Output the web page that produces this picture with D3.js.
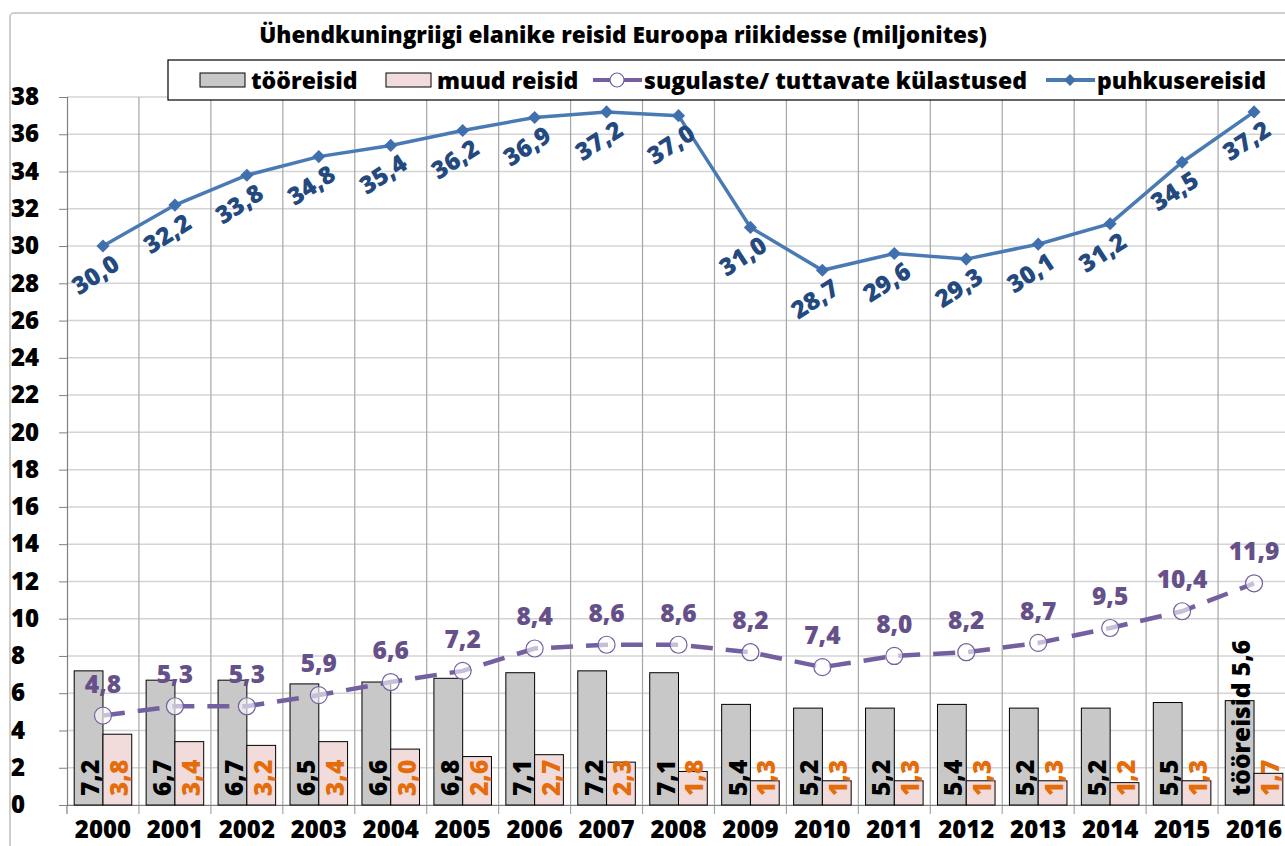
<!DOCTYPE html>
<html>
<head>
<meta charset="utf-8">
<script src="https://cdn.jsdelivr.net/npm/d3@7"></script>
<style>
  body { margin: 0; background: #fff; }
  svg text { font-family: "Open Sans", Lato, sans-serif; font-weight: 800; }
</style>
</head>
<body>
<svg id="chart" width="1285" height="846"></svg>
<script>
var years = ["2000","2001","2002","2003","2004","2005","2006","2007","2008","2009","2010","2011","2012","2013","2014","2015","2016"];
var tooreisid = [7.2, 6.7, 6.7, 6.5, 6.6, 6.8, 7.1, 7.2, 7.1, 5.4, 5.2, 5.2, 5.4, 5.2, 5.2, 5.5, 5.6];
var muudReisid = [3.8, 3.4, 3.2, 3.4, 3.0, 2.6, 2.7, 2.3, 1.8, 1.3, 1.3, 1.3, 1.3, 1.3, 1.2, 1.3, 1.7];
var sugulaste = [4.8, 5.3, 5.3, 5.9, 6.6, 7.2, 8.4, 8.6, 8.6, 8.2, 7.4, 8.0, 8.2, 8.7, 9.5, 10.4, 11.9];
var puhkus = [30.0, 32.2, 33.8, 34.8, 35.4, 36.2, 36.9, 37.2, 37.0, 31.0, 28.7, 29.6, 29.3, 30.1, 31.2, 34.5, 37.2];
var yTicks = d3.range(0, 39, 2);
var title = "Ühendkuningriigi elanike reisid Euroopa riikidesse (miljonites)";

var svg = d3.select("svg#chart"),
    margin = {top: 97, left: 67},
    width = 1223,
    height = 708;

var fmt = function(v) { return v.toFixed(1).replace(".", ","); };

// chart frame
svg.append("rect")
    .attr("x", 10).attr("y", 13)
    .attr("width", 1300).attr("height", 860)
    .attr("rx", 4)
    .attr("fill", "#fff")
    .attr("stroke", "#bfbfbf")
    .attr("stroke-width", 1.5);

svg.append("text")
    .attr("x", 623).attr("y", 43)
    .attr("text-anchor", "middle")
    .style("font-size", "22.6px")
    .text(title);

var g = svg.append("g").attr("transform", "translate(" + margin.left + "," + margin.top + ")");

var x = d3.scaleBand().domain(years).range([0, width]);
var y = d3.scaleLinear().domain([0, 38]).range([height, 0]);

// horizontal grid
g.selectAll(".hgrid")
  .data(yTicks)
  .enter().append("line")
    .attr("x1", 0).attr("x2", width)
    .attr("y1", function(d) { return y(d); })
    .attr("y2", function(d) { return y(d); })
    .attr("stroke", "#d4d4d4").attr("stroke-width", 1.5);

// vertical grid
g.selectAll(".vgrid")
  .data(years.slice(1).concat(["end"]))
  .enter().append("line")
    .attr("x1", function(d, i) { return x.step() * (i + 1); })
    .attr("x2", function(d, i) { return x.step() * (i + 1); })
    .attr("y1", 0).attr("y2", height + 9)
    .attr("stroke", "#a6a6a6").attr("stroke-width", 1.2);

// y axis
var yAxis = g.append("g")
    .call(d3.axisLeft(y).tickValues(yTicks).tickSize(8).tickPadding(8));
yAxis.select(".domain").attr("stroke", "#808080").attr("stroke-width", 1.2);
yAxis.selectAll(".tick line").attr("stroke", "#808080");
yAxis.selectAll("text").style("font-size", "24px").attr("fill", "#000")
    .attr("font-family", "Open Sans").attr("font-weight", "800");
yAxis.selectAll("text").attr("text-anchor", "start").attr("x", -56);

// x axis
var xAxis = g.append("g")
    .attr("transform", "translate(0," + height + ")")
    .call(d3.axisBottom(x).tickSize(0).tickPadding(16));
xAxis.select(".domain").attr("stroke", "#808080").attr("stroke-width", 1.2);
xAxis.selectAll("text").style("font-size", "24px").attr("fill", "#000")
    .attr("font-family", "Open Sans").attr("font-weight", "800");
g.append("line").attr("x1", 0).attr("x2", 0).attr("y1", height).attr("y2", height + 9)
    .attr("stroke", "#808080").attr("stroke-width", 1.2);

var bw = x.step() * 0.4;
var cx = function(i) { return x(years[i]) + x.bandwidth() / 2; };

// bars
g.selectAll(".bar-too")
  .data(tooreisid)
  .enter().append("rect")
    .attr("x", function(d, i) { return cx(i) - bw; })
    .attr("y", function(d) { return y(d); })
    .attr("width", bw)
    .attr("height", function(d) { return height - y(d); })
    .attr("fill", "#c8c8c8").attr("stroke", "#000").attr("stroke-width", 1);

g.selectAll(".bar-muud")
  .data(muudReisid)
  .enter().append("rect")
    .attr("x", function(d, i) { return cx(i); })
    .attr("y", function(d) { return y(d); })
    .attr("width", bw)
    .attr("height", function(d) { return height - y(d); })
    .attr("fill", "#f2dcdb").attr("stroke", "#000").attr("stroke-width", 1);

// bar labels (rotated)
g.selectAll(".lbl-too")
  .data(tooreisid)
  .enter().append("text")
    .attr("transform", function(d, i) { return "translate(" + (cx(i) - bw / 2 + 1) + "," + (height - 9) + ") rotate(-90)"; })
    .attr("dominant-baseline", "central")
    .style("font-size", "24.5px")
    .attr("fill", "#000")
    .text(function(d, i) { return (i === years.length - 1 ? "tööreisid " : "") + fmt(d); });

g.selectAll(".lbl-muud")
  .data(muudReisid)
  .enter().append("text")
    .attr("transform", function(d, i) { return "translate(" + (cx(i) + bw / 2 + 1) + "," + (height - 9) + ") rotate(-90)"; })
    .attr("dominant-baseline", "central")
    .style("font-size", "24.5px")
    .attr("fill", "#e46c0a")
    .text(function(d) { return fmt(d); });

// sugulaste line
var line = d3.line()
    .x(function(d, i) { return cx(i); })
    .y(function(d) { return y(d); });

g.append("path")
    .datum(sugulaste)
    .attr("d", line)
    .attr("fill", "none")
    .attr("stroke", "#7460a0")
    .attr("stroke-width", 4.5)
    .attr("stroke-dasharray", "22,13");

g.selectAll(".pt-sug")
  .data(sugulaste)
  .enter().append("circle")
    .attr("cx", function(d, i) { return cx(i); })
    .attr("cy", function(d) { return y(d); })
    .attr("r", 8.5)
    .attr("fill", "#fff").attr("fill-opacity", 0.6)
    .attr("stroke", "#7460a0").attr("stroke-width", 1.2);

g.selectAll(".lbl-sug")
  .data(sugulaste)
  .enter().append("text")
    .attr("x", function(d, i) { return cx(i); })
    .attr("y", function(d) { return y(d) - 23; })
    .attr("text-anchor", "middle")
    .style("font-size", "24.5px")
    .attr("fill", "#66508a")
    .text(function(d) { return fmt(d); });

// puhkusereisid line
g.append("path")
    .datum(puhkus)
    .attr("d", line)
    .attr("fill", "none")
    .attr("stroke", "#4a7ab4")
    .attr("stroke-width", 3.5);

g.selectAll(".pt-puh")
  .data(puhkus)
  .enter().append("path")
    .attr("transform", function(d, i) { return "translate(" + cx(i) + "," + y(d) + ")"; })
    .attr("d", d3.symbol().type(d3.symbolDiamond2).size(110))
    .attr("fill", "#3f6fad");

g.selectAll(".lbl-puh")
  .data(puhkus)
  .enter().append("text")
    .attr("transform", function(d, i) { return "translate(" + (cx(i) - 8) + "," + (y(d) + 28) + ") rotate(-33)"; })
    .attr("text-anchor", "middle")
    .attr("dominant-baseline", "central")
    .style("font-size", "24.5px")
    .attr("fill", "#23497f")
    .text(function(d) { return fmt(d); });

// legend
var lg = svg.append("g");
lg.append("rect")
    .attr("x", 168).attr("y", 60).attr("width", 1140).attr("height", 40)
    .attr("fill", "#fff").attr("stroke", "#000").attr("stroke-width", 1.2);

var legendItems = [
  {x: 200, kind: "bar", fill: "#c8c8c8", label: "tööreisid"},
  {x: 386, kind: "bar", fill: "#f2dcdb", label: "muud reisid"},
  {x: 593, kind: "circle", color: "#7460a0", label: "sugulaste/ tuttavate külastused"},
  {x: 1046, kind: "diamond", color: "#4a7ab4", label: "puhkusereisid"}
];
legendItems.forEach(function(it) {
  if (it.kind === "bar") {
    lg.append("rect").attr("x", it.x).attr("y", 73).attr("width", 45).attr("height", 14)
        .attr("fill", it.fill).attr("stroke", "#000");
  } else {
    lg.append("line").attr("x1", it.x).attr("x2", it.x + 49).attr("y1", 80).attr("y2", 80)
        .attr("stroke", it.color).attr("stroke-width", 4);
    if (it.kind === "circle") {
      lg.append("circle").attr("cx", it.x + 24).attr("cy", 80).attr("r", 7)
          .attr("fill", "#fff").attr("stroke", it.color).attr("stroke-width", 1.2);
    } else {
      lg.append("path").attr("transform", "translate(" + (it.x + 24) + ",80)")
          .attr("d", d3.symbol().type(d3.symbolDiamond2).size(90))
          .attr("fill", "#3f6fad");
    }
  }
  lg.append("text").attr("x", it.x + 51).attr("y", 89).style("font-size", "23px").text(it.label);
});
</script>
</body>
</html>
